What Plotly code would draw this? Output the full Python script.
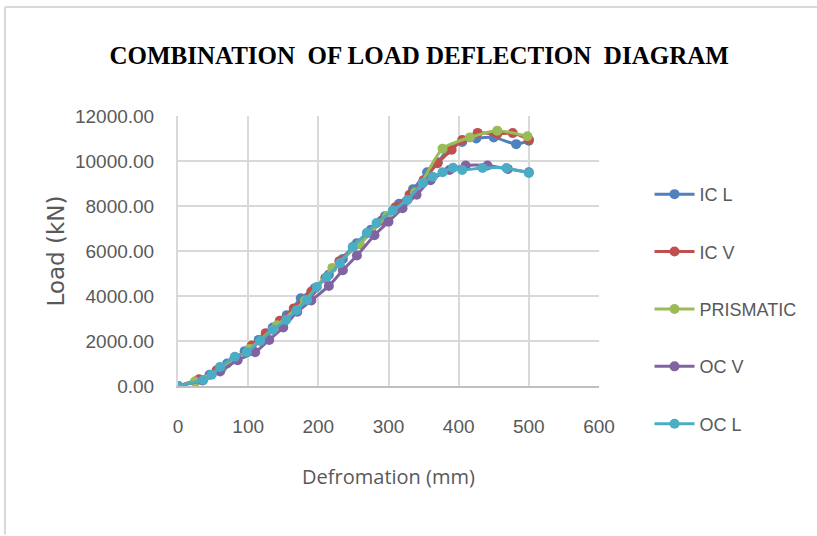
import plotly.graph_objects as go

# ---- data ----
series_names = ["IC L", "IC V", "PRISMATIC", "OC V", "OC L"]

icl_x = [0, 25, 45, 70, 95, 115, 135, 155, 175, 195, 215, 235, 255, 275, 295, 315, 335, 355, 370, 385, 405, 425, 450, 482, 500]
icl_y = [0, 200, 500, 1000, 1550, 2050, 2600, 3150, 3900, 4350, 4950, 5650, 6350, 6950, 7550, 8100, 8750, 9500, 9950, 10500, 10850, 11000, 11050, 10750, 10900]

icv_x = [0, 30, 55, 80, 105, 125, 145, 165, 190, 210, 230, 250, 270, 290, 310, 330, 350, 370, 390, 405, 427, 455, 477, 500]
icv_y = [0, 300, 700, 1200, 1800, 2350, 2900, 3450, 4200, 4800, 5550, 6200, 6800, 7350, 7950, 8500, 9150, 9900, 10500, 10930, 11250, 11200, 11240, 10950]

pri_x = [0, 24, 63, 102, 141, 181, 220, 259, 298, 338, 377, 416, 455, 498]
pri_y = [0, 200, 800, 1650, 2700, 3800, 5250, 6300, 7550, 8600, 10550, 11050, 11350, 11100]

ocv_x = [0, 35, 60, 85, 110, 130, 150, 170, 190, 215, 235, 255, 280, 300, 320, 340, 360, 387, 410, 441, 470, 500]
ocv_y = [0, 250, 650, 1150, 1500, 2050, 2600, 3300, 3800, 4450, 5150, 5800, 6700, 7300, 7900, 8500, 9150, 9600, 9800, 9800, 9650, 9500]

ocl_x = [0, 36, 48, 60, 81, 98, 117, 135, 154, 169, 184, 198, 212, 231, 249, 269, 283, 306, 327, 349, 363, 377, 392, 405, 434, 468, 500]
ocl_y = [0, 270, 500, 850, 1300, 1500, 2000, 2500, 2930, 3370, 3820, 4400, 4840, 5460, 6180, 6800, 7240, 7800, 8270, 9020, 9300, 9500, 9700, 9600, 9690, 9690, 9470]

x_ticks = [0, 100, 200, 300, 400, 500, 600]
y_ticks = [0, 2000, 4000, 6000, 8000, 10000, 12000]

colors = ["#4F81BD", "#C0504D", "#9BBB59", "#8064A2", "#4BACC6"]
xs = [icl_x, icv_x, pri_x, ocv_x, ocl_x]
ys = [icl_y, icv_y, pri_y, ocv_y, ocl_y]

fig = go.Figure()
for i, (name, x, y, c) in enumerate(zip(series_names, xs, ys, colors)):
    fig.add_trace(go.Scatter(
        x=x, y=y, name=name, mode="lines+markers",
        line=dict(color=c, width=3, shape="spline", smoothing=0.6),
        marker=dict(color=c, size=10, symbol="circle"),
        legendgroup=name,
    ))

tick_font = dict(family="Liberation Sans", size=19, color="#595959")

fig.update_layout(
    width=817, height=536,
    paper_bgcolor="white", plot_bgcolor="white",
    margin=dict(l=178, r=218, t=116, b=150, autoexpand=False),
    title=dict(
        text="<b>COMBINATION  OF LOAD DEFLECTION  DIAGRAM</b>",
        font=dict(family="Liberation Serif, Times New Roman, serif", size=25, color="#000000"),
        x=0.513, xanchor="center", y=0.897, yanchor="middle",
    ),
    xaxis=dict(
        range=[0, 600], tickvals=x_ticks, ticktext=[str(v) for v in x_ticks],
        showgrid=True, gridcolor="#D9D9D9", gridwidth=2,
        showline=True, linecolor="#BFBFBF", linewidth=2,
        ticks="outside", ticklen=22, tickcolor="rgba(0,0,0,0)",
        tickfont=tick_font, zeroline=False, automargin=False,
        title=dict(text="Defromation (mm)", font=dict(family="Open Sans, DejaVu Sans", size=20, color="#595959"), standoff=34),
    ),
    yaxis=dict(
        range=[0, 12000], tickvals=y_ticks, ticktext=[f"{v:.2f}" for v in y_ticks],
        showgrid=True, gridcolor="#D9D9D9", gridwidth=2,
        showline=True, linecolor="#D9D9D9", linewidth=2,
        ticks="outside", ticklen=18, tickcolor="rgba(0,0,0,0)",
        tickfont=tick_font, zeroline=False, automargin=False,
        title=dict(text="Load (kN)", font=dict(family="DejaVu Sans", size=23, color="#595959"), standoff=4),
    ),
    legend=dict(
        x=1.12, xanchor="left", y=0.778, yanchor="top",
        font=dict(family="Liberation Sans", size=18, color="#595959"),
        tracegroupgap=31, itemwidth=40,
        bgcolor="rgba(0,0,0,0)",
    ),
    showlegend=True,
)

# outer frame (left and top edges visible in the reference)
fig.add_shape(type="line", xref="paper", yref="paper", x0=-0.411, x1=-0.411, y0=-0.55, y1=1.404,
              line=dict(color="#D9D9D9", width=2))
fig.add_shape(type="line", xref="paper", yref="paper", x0=-0.411, x1=1.6, y0=1.404, y1=1.404,
              line=dict(color="#D9D9D9", width=2))

fig.write_html("out.html", config={"displayModeBar": False},
               post_script="document.body.style.margin='0';")
